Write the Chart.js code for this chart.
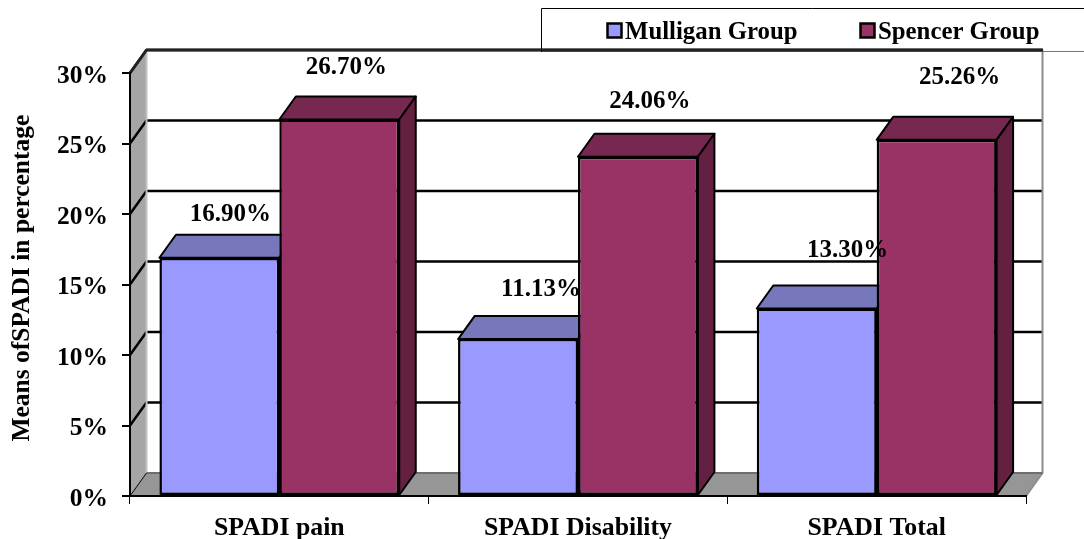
<!DOCTYPE html>
<html>
<head>
<meta charset="utf-8">
<style>
  html, body { margin: 0; padding: 0; background: #fff; }
  canvas { display: block; }
</style>
<script src="https://cdn.jsdelivr.net/npm/chart.js@4"></script>
</head>
<body>
<canvas id="chart" width="1084" height="539"></canvas>
<script>
const categories = ['SPADI pain', 'SPADI Disability', 'SPADI Total'];
const mulligan = [16.90, 11.13, 13.30];
const spencer = [26.70, 24.06, 25.26];

const FONT = '"Liberation Serif", "Times New Roman", serif';

// how far the 3d box goes back, in pixels
const depthX = 16.5;
const depthY = 23;

// the labels were moved by hand in the original, [dx, dy] from top centre of the bar
const labelNudge = [
  [[11, -43], [23, -50], [31, -58]],
  [[7, -52], [12, -55], [23, -62]]
];

const shades = [
  { top: '#7777bb', side: '#5f5f99' },
  { top: '#772850', side: '#632041' }
];

function poly(ctx, pts, fill, stroke, width) {
  ctx.beginPath();
  pts.forEach((p, i) => i ? ctx.lineTo(p[0], p[1]) : ctx.moveTo(p[0], p[1]));
  ctx.closePath();
  if (fill) {
    ctx.fillStyle = fill;
    ctx.fill();
  }
  if (stroke) {
    ctx.strokeStyle = stroke;
    ctx.lineWidth = width;
    ctx.stroke();
  }
}

function line(ctx, pts, color, width) {
  ctx.beginPath();
  pts.forEach((p, i) => i ? ctx.lineTo(p[0], p[1]) : ctx.moveTo(p[0], p[1]));
  ctx.strokeStyle = color;
  ctx.lineWidth = width;
  ctx.stroke();
}

const walls = {
  id: 'walls',
  beforeDraw(chart) {
    const { ctx, chartArea: { left, right, top, bottom }, scales: { y } } = chart;
    ctx.save();
    ctx.lineJoin = 'round';

    // left side wall and floor
    poly(ctx, [[left, bottom], [left + depthX, bottom - depthY], [left + depthX, top - depthY], [left, top]], '#a6a6a6');
    poly(ctx, [[left, bottom], [left + depthX, bottom - depthY], [right + depthX, bottom - depthY], [right, bottom]], '#969696');

    // grid lines follow the side wall and then the back wall
    y.ticks.forEach((tick) => {
      const py = y.getPixelForValue(tick.value);
      if (tick.value === 0) return;
      line(ctx, [[left, py], [left + depthX, py - depthY], [right + depthX, py - depthY]], '#000', 2.5);
    });
    line(ctx, [[left + depthX, top - depthY], [left + depthX, bottom - depthY]], '#c0c0c0', 2);
    line(ctx, [[right + depthX, top - depthY], [right + depthX, bottom - depthY], [right, bottom]], '#8c8c8c', 2);
    line(ctx, [[left + depthX, bottom - depthY], [right + depthX, bottom - depthY]], '#6e6e6e', 2);
    line(ctx, [[left, bottom], [left + depthX, bottom - depthY]], '#000', 1);
    line(ctx, [[left, top], [left + depthX, top - depthY], [right + depthX, top - depthY]], '#222', 3);
    ctx.restore();
  },
  beforeDatasetsDraw(chart) {
    const { ctx } = chart;
    ctx.save();
    ctx.lineJoin = 'round';
    chart.data.datasets.forEach((ds, d) => {
      chart.getDatasetMeta(d).data.forEach((bar) => {
        const { x, y, base, width } = bar.getProps(['x', 'y', 'base', 'width'], true);
        const l = x - width / 2;
        const r = x + width / 2;
        poly(ctx, [[l, y], [l + depthX, y - depthY], [r + depthX, y - depthY], [r, y]], shades[d].top, '#000', 2);
        poly(ctx, [[r, y], [r + depthX, y - depthY], [r + depthX, base - depthY], [r, base]], shades[d].side, '#000', 2);
      });
    });
    ctx.restore();
  },
  afterDatasetsDraw(chart) {
    const { ctx } = chart;
    ctx.save();
    ctx.font = 'bold 25px ' + FONT;
    ctx.fillStyle = '#000';
    ctx.textAlign = 'center';
    ctx.textBaseline = 'middle';
    chart.data.datasets.forEach((ds, d) => {
      chart.getDatasetMeta(d).data.forEach((bar, i) => {
        const nudge = labelNudge[d][i];
        ctx.fillText(ds.data[i].toFixed(2) + '%', bar.x + nudge[0], bar.y + nudge[1]);
      });
    });
    ctx.restore();
  },
  afterDraw(chart) {
    const { ctx } = chart;
    ctx.save();
    // legend box runs off the right side of the picture
    ctx.fillStyle = '#fff';
    ctx.fillRect(541.5, 8.5, 543, 40);
    line(ctx, [[1084, 8.5], [541.5, 8.5], [541.5, 52]], '#000', 1);
    line(ctx, [[1043, 51.5], [1084, 51.5]], '#777', 1);
    line(ctx, [[541.5, 50], [1043, 50]], '#222', 3);

    ctx.font = 'bold 24.8px ' + FONT;
    ctx.textBaseline = 'middle';
    ctx.textAlign = 'left';
    let x = 607.5;
    chart.data.datasets.forEach((ds) => {
      ctx.fillStyle = ds.backgroundColor;
      ctx.fillRect(x, 23.5, 14, 14);
      ctx.strokeStyle = '#000';
      ctx.lineWidth = 2.5;
      ctx.strokeRect(x, 23.5, 14, 14);
      ctx.fillStyle = '#000';
      ctx.fillText(ds.label, x + 17.5, 32.5);
      x += 253;
    });
    ctx.restore();
  }
};

const chart = new Chart(document.getElementById('chart'), {
  type: 'bar',
  data: {
    labels: categories,
    datasets: [
      {
        label: 'Mulligan Group',
        data: mulligan,
        backgroundColor: '#9999ff',
        borderColor: '#000',
        borderWidth: 2.5,
        borderSkipped: false,
        categoryPercentage: 0.803,
        barPercentage: 1
      },
      {
        label: 'Spencer Group',
        data: spencer,
        backgroundColor: '#993366',
        borderColor: '#000',
        borderWidth: 2.5,
        borderSkipped: false,
        categoryPercentage: 0.803,
        barPercentage: 1
      }
    ]
  },
  plugins: [walls],
  options: {
    responsive: false,
    animation: false,
    layout: {
      padding: { top: 73, right: 58, bottom: 0, left: 0 }
    },
    plugins: {
      legend: { display: false },
      tooltip: { enabled: false }
    },
    scales: {
      x: {
        afterFit(scale) { scale.height = 43; },
        grid: { drawOnChartArea: false, color: '#000', lineWidth: 1, tickLength: 8 },
        border: { color: '#000', width: 2 },
        ticks: {
          color: '#000',
          padding: 9,
          maxRotation: 0,
          font: { family: FONT, size: 25.8, weight: 'bold' }
        }
      },
      y: {
        min: 0,
        max: 30,
        afterFit(scale) { scale.width = 130; },
        grid: { drawOnChartArea: false, color: '#000', lineWidth: 2, tickLength: 8 },
        border: { color: '#000', width: 2 },
        ticks: {
          stepSize: 5,
          color: '#000',
          padding: 14,
          labelOffset: 3,
          callback: (value) => value + '%',
          font: { family: FONT, size: 25.5, weight: 'bold' }
        },
        title: {
          display: true,
          // two leading spaces: the original title sits a bit above the middle of the axis
          text: '  Means ofSPADI in percentage',
          color: '#000',
          padding: { top: 7, bottom: 0 },
          font: { family: FONT, size: 25.5, weight: 'bold' }
        }
      }
    }
  }
});
</script>
</body>
</html>
